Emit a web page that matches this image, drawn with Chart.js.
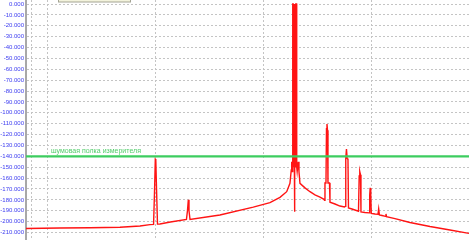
<!DOCTYPE html>
<html>
<head>
<meta charset="utf-8">
<script src="https://cdn.jsdelivr.net/npm/chart.js@4.4.0/dist/chart.umd.min.js"></script>
<style>
  body { margin: 0; background: #fff; }
  #wrap { width: 469px; height: 240px; }
</style>
</head>
<body>
<div id="wrap"><canvas id="spectrum"></canvas></div>
<script>
// spectrum trace (log frequency axis)
const freqHz = [6.26, 12.9, 24.5, 46.4, 71.1, 88, 95, 96.8, 98.6, 99.6, 101.2, 103.3, 108.7, 136,
  191.5, 195.7, 199.3, 202.2, 206.6, 391, 796, 1136, 1406, 1623, 1740,
  1789, 1805, 1828, 1845, 1848, 1862, 1879, 1895, 1912, 1918, 1924, 1930, 1945, 1962, 1979, 2004, 2010,
  2029, 2077, 2109, 2154, 2396,
  2667, 2966, 3300, 3594, 3633, 3671, 3751, 3791, 3832, 3873, 3914, 4043, 4085, 4544, 5053,
  5566, 5658, 5718, 5805, 5893, 5995, 6059, 6527, 7499, 7612, 7709, 7826, 7907, 8610,
  9419, 9521, 9623, 9748, 9851, 10662, 11364, 11535, 11708, 12378, 13335, 13482, 13627,
  16330, 22480, 34450, 52780, 79130];
const levelDb = [-206.3, -205.9, -205.6, -205.2, -204.0, -202.8, -202.5, -175, -142.5, -143, -170, -202.3, -202.2, -200.4,
  -198, -190, -180, -190, -197.9, -193.9, -186.7, -182.6, -177.7, -172.5, -164.8,
  -152.6, -145, -154, -150, 0, 0, -150, 0, -150, -160, -191, -160, 0, -150, 0, 0, -150,
  -154, -145, -154, -164.8, -169,
  -172.5, -175.5, -177.5, -179.5, -180.5, -164.5, -164.5, -114.7, -110.3, -116, -164.5, -164.5, -182.2, -183.8, -185.7,
  -186.5, -186, -142, -133.3, -142, -143, -187.5, -188.4, -190.5, -158, -154, -157, -191, -191.6,
  -192, -176, -169, -176, -192.5, -193, -193.3, -188.4, -193.8, -194.4, -195.2, -193, -195.5,
  -197.2, -200.8, -204.5, -207.7, -210.8];

const yTicks = [0, -10, -20, -30, -40, -50, -60, -70, -80, -90, -100, -110, -120, -130, -140,
  -150, -160, -170, -180, -190, -200, -210];
const xGridHz = [7, 10, 100, 1000, 10000];
const noiseFloorDb = -140;
const noiseLabel = 'шумовая полка измерителя';

const trace = freqHz.map((f, i) => ({ x: f, y: levelDb[i] }));
const floorLine = [{ x: freqHz[0], y: noiseFloorDb }, { x: freqHz[freqHz.length - 1], y: noiseFloorDb }];

// label above the noise floor line + the cut-off box at the top
const extras = {
  id: 'extras',
  afterDatasetsDraw(chart) {
    const { ctx, scales } = chart;
    ctx.save();
    ctx.font = '7px "Liberation Sans", Arial, sans-serif';
    ctx.fillStyle = 'rgb(80, 205, 105)';
    ctx.textBaseline = 'bottom';
    ctx.fillText(noiseLabel, scales.x.getPixelForValue(10) + 3, scales.y.getPixelForValue(noiseFloorDb) - 1.5);
    ctx.fillStyle = '#f3f3dc';
    ctx.strokeStyle = '#a4a494';
    ctx.lineWidth = 1;
    ctx.fillRect(58, -4, 73, 6);
    ctx.strokeRect(58.5, -4, 72, 6);
    ctx.restore();
  }
};

new Chart(document.getElementById('spectrum'), {
  type: 'line',
  data: {
    datasets: [{
      data: floorLine,
      borderColor: 'rgb(60, 205, 95)',
      borderWidth: 2.4,
      pointRadius: 0
    }, {
      data: trace,
      borderColor: 'rgb(255, 20, 20)',
      borderWidth: 1.4,
      pointRadius: 0,
      tension: 0
    }]
  },
  options: {
    responsive: true,
    maintainAspectRatio: false,
    animation: false,
    layout: { padding: 0 },
    plugins: { legend: { display: false }, tooltip: { enabled: false } },
    scales: {
      x: {
        type: 'logarithmic',
        min: 6.26,
        max: 79130,
        afterBuildTicks: s => { s.ticks = xGridHz.map(v => ({ value: v })); },
        afterFit: s => { s.height = 0; s.paddingLeft = 0; s.paddingRight = 0; },
        ticks: { display: false },
        grid: { color: '#c4c4c4', lineWidth: 1, drawTicks: false },
        border: { display: false, dash: [2, 2] }
      },
      y: {
        min: -216.9,
        max: 3.7,
        afterBuildTicks: s => { s.ticks = yTicks.map(v => ({ value: v })); },
        afterFit: s => { s.width = 26; s.paddingTop = 0; s.paddingBottom = 0; },
        ticks: {
          padding: 2,
          color: 'rgb(60, 60, 240)',
          font: { family: '"Liberation Sans", Arial, sans-serif', size: 6 },
          callback: v => v.toFixed(3)
        },
        grid: { color: '#c4c4c4', lineWidth: 1, drawTicks: false },
        border: { display: true, color: '#a8a8a8', width: 2, dash: [2, 2] }
      }
    }
  },
  plugins: [extras]
});
</script>
</body>
</html>
